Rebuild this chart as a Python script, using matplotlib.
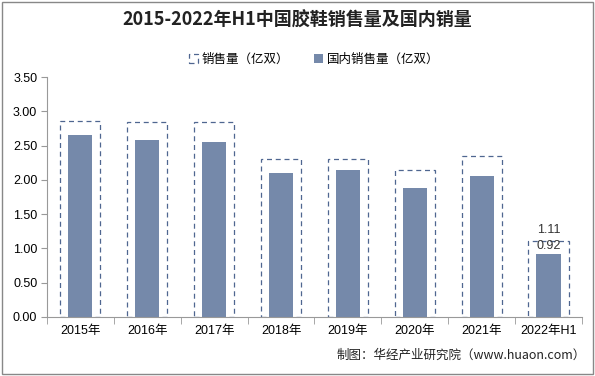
import matplotlib.pyplot as plt
import numpy as np

plt.rcParams['font.family'] = ['Liberation Sans', 'Noto Sans CJK SC', 'DejaVu Sans']

# data
years = ['2015年', '2016年', '2017年', '2018年', '2019年', '2020年', '2021年', '2022年H1']
sales = [2.86, 2.84, 2.85, 2.30, 2.30, 2.15, 2.35, 1.11]
domestic = [2.66, 2.58, 2.55, 2.10, 2.15, 1.88, 2.05, 0.92]

bar_color = '#7589aa'
edge_color = '#4f6690'
cjk = ['Noto Sans CJK SC', 'DejaVu Sans']

fig = plt.figure(figsize=(5.95, 3.76), dpi=100)
ax = fig.add_axes([0.079, 0.157, 0.899, 0.638])

x = np.arange(len(years))

# outer dashed bars (total sales)
ax.bar(x, sales, width=0.6, facecolor='none', edgecolor=edge_color,
       linestyle=(0, (4, 3)), linewidth=0.9, label='销售量（亿双）')
# inner solid bars (domestic sales)
ax.bar(x, domestic, width=0.36, color=bar_color, label='国内销售量（亿双）')

# labels only on the last category
ax.text(x[-1], sales[-1] + 0.07, f'{sales[-1]:.2f}', ha='center', va='bottom', fontsize=9, color='#333333')
ax.text(x[-1], domestic[-1] + 0.03, f'{domestic[-1]:.2f}', ha='center', va='bottom', fontsize=9, color='#333333')

ax.set_xlim(-0.5, len(years) - 0.5)
ax.set_ylim(0, 3.5)
ax.set_yticks(np.arange(0, 3.51, 0.5))
ax.set_yticklabels([f'{v:.2f}' for v in np.arange(0, 3.51, 0.5)], fontsize=9)
ax.set_xticks(x)
ax.set_xticklabels(years, fontsize=9)
ax.set_xticks(np.arange(-0.5, len(years), 1), minor=True)
ax.tick_params(axis='x', which='major', length=0, pad=6)
ax.tick_params(axis='x', which='minor', length=5, color='#999999')
ax.tick_params(axis='y', length=4, color='#999999', pad=3)

for side in ['top', 'right']:
    ax.spines[side].set_visible(False)
ax.spines['left'].set_color('#999999')
ax.spines['bottom'].set_color('#999999')

fig.text(0.5, 0.945, '2015-2022年H1中国胶鞋销售量及国内销量', ha='center', va='center',
         fontsize=13, fontweight='bold', color='#222222', family=cjk)
ax.legend(loc='center', bbox_to_anchor=(0.5, 1.075), ncol=2, frameon=False,
          prop={'family': cjk, 'size': 9}, handlelength=0.7, handleheight=0.7,
          columnspacing=2.0, handletextpad=0.3)

fig.text(0.985, 0.055, '制图：华经产业研究院（www.huaon.com）', ha='right', va='center',
         fontsize=9, color='#222222', family=cjk)

# border around the figure
fig.patches.append(plt.Rectangle((0.003, 0.004), 0.994, 0.992, transform=fig.transFigure,
                                 fill=False, edgecolor='#888888', linewidth=1))

plt.savefig('out.png', dpi=100)
